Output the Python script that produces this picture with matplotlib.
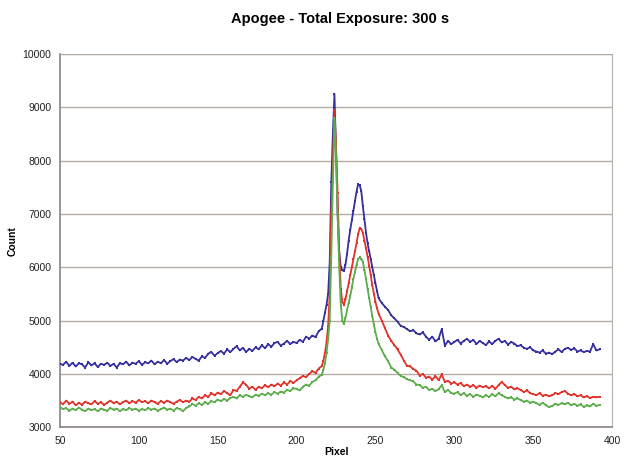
import matplotlib.pyplot as plt

# pixel positions: coarse on the wings, every pixel across the peaks
pixLeft = list(range(50, 216, 2))
pixMid = list(range(216, 252))
pixRight = list(range(252, 394, 2))

blueLeft = [4190, 4170, 4230, 4150, 4210, 4140, 4200, 4180, 4120, 4220,
            4160, 4200, 4130, 4190, 4170, 4210, 4150, 4190, 4120, 4200,
            4180, 4230, 4160, 4210, 4190, 4240, 4170, 4220, 4200, 4250,
            4180, 4230, 4200, 4260, 4190, 4240, 4280, 4220, 4270, 4250,
            4300, 4260, 4320, 4280, 4250, 4330, 4300, 4380, 4410, 4340,
            4390, 4430, 4380, 4460, 4410, 4470, 4520, 4440, 4490, 4410,
            4470, 4430, 4500, 4460, 4540, 4480, 4560, 4510, 4580, 4600,
            4530, 4570, 4620, 4560, 4600, 4580, 4640, 4600, 4700, 4660,
            4720, 4690, 4800]
blueMid = [4850, 5000, 5150, 5300, 5500, 6100, 7600, 8500, 9250, 8200,
           7000, 6300, 6000, 5950, 5930, 6050, 6250, 6500, 6700, 6880,
           7050, 7250, 7420, 7560, 7540, 7430, 7150, 6900, 6650, 6450,
           6300, 6150, 6000, 5850, 5700, 5550]
blueRight = [5420, 5330, 5260, 5200, 5100, 5040, 4980, 4900, 4880, 4840,
             4800, 4820, 4760, 4740, 4780, 4700, 4640, 4700, 4610, 4660,
             4840, 4530, 4620, 4560, 4600, 4640, 4570, 4620, 4660, 4600,
             4640, 4560, 4620, 4580, 4540, 4610, 4560, 4620, 4660, 4590,
             4620, 4550, 4600, 4570, 4520, 4540, 4490, 4470, 4500, 4440,
             4420, 4400, 4440, 4380, 4400, 4370, 4420, 4460, 4410, 4470,
             4490, 4450, 4480, 4420, 4440, 4410, 4430, 4420, 4560, 4440,
             4460]

redLeft = [3470, 3430, 3500, 3440, 3480, 3410, 3460, 3420, 3480, 3450,
           3430, 3490, 3440, 3470, 3420, 3460, 3500, 3450, 3480, 3430,
           3470, 3500, 3450, 3490, 3460, 3510, 3470, 3490, 3450, 3500,
           3470, 3440, 3490, 3460, 3500, 3470, 3440, 3480, 3510, 3470,
           3500, 3480, 3540, 3510, 3570, 3540, 3600, 3570, 3640, 3600,
           3650, 3620, 3680, 3640, 3600, 3700, 3680, 3760, 3840, 3800,
           3720, 3760, 3700, 3760, 3730, 3790, 3750, 3800, 3770, 3820,
           3780, 3840, 3800, 3870, 3830, 3880, 3920, 3960, 3940, 4000,
           4050, 4020, 4100]
redMid = [4150, 4250, 4400, 4600, 4900, 5500, 7000, 7900, 8950, 8300,
          7400, 6300, 5600, 5350, 5300, 5400, 5550, 5700, 5850, 6000,
          6150, 6300, 6450, 6620, 6740, 6720, 6650, 6500, 6360, 6200,
          6030, 5850, 5660, 5500, 5350, 5230]
redRight = [5130, 5000, 4860, 4720, 4620, 4540, 4460, 4360, 4250, 4150,
            4140, 4090, 4060, 3970, 4000, 3930, 3950, 3890, 3960, 3880,
            3990, 3850, 3870, 3820, 3840, 3800, 3830, 3770, 3800, 3760,
            3790, 3740, 3780, 3750, 3770, 3730, 3780, 3720, 3790, 3850,
            3790, 3740, 3760, 3710, 3730, 3700, 3660, 3690, 3640, 3620,
            3600, 3640, 3590, 3610, 3580, 3600, 3640, 3620, 3660, 3680,
            3630, 3600, 3620, 3580, 3600, 3560, 3580, 3550, 3570, 3560,
            3570]

greenLeft = [3380, 3340, 3360, 3310, 3350, 3320, 3370, 3330, 3300, 3350,
             3320, 3340, 3300, 3350, 3330, 3310, 3360, 3330, 3350, 3300,
             3340, 3320, 3360, 3330, 3350, 3310, 3340, 3320, 3360, 3330,
             3350, 3310, 3340, 3370, 3330, 3350, 3310, 3360, 3340, 3300,
             3360, 3390, 3440, 3400, 3450, 3420, 3470, 3440, 3490, 3470,
             3520, 3490, 3530, 3500, 3550, 3570, 3540, 3600, 3570, 3610,
             3580, 3560, 3610, 3590, 3630, 3600, 3640, 3610, 3660, 3630,
             3670, 3650, 3700, 3680, 3730, 3720, 3690, 3760, 3800, 3780,
             3850, 3880, 3950]
greenMid = [3980, 4080, 4200, 4400, 4650, 5000, 6200, 7600, 8800, 8100,
            7000, 6000, 5300, 5000, 4940, 5050, 5200, 5330, 5460, 5620,
            5780, 5920, 6050, 6150, 6190, 6160, 6100, 5950, 5780, 5600,
            5420, 5250, 5080, 4920, 4780, 4660]
greenRight = [4560, 4450, 4330, 4240, 4120, 4080, 4020, 3960, 3940, 3900,
              3880, 3860, 3800, 3790, 3740, 3760, 3700, 3720, 3680, 3710,
              3790, 3660, 3700, 3640, 3630, 3660, 3600, 3640, 3590, 3620,
              3570, 3610, 3590, 3560, 3600, 3570, 3620, 3580, 3640, 3600,
              3570, 3540, 3560, 3520, 3540, 3510, 3480, 3500, 3460, 3480,
              3450, 3420, 3460, 3410, 3380, 3400, 3440, 3420, 3450, 3430,
              3460, 3410, 3440, 3400, 3430, 3380, 3410, 3390, 3440, 3400,
              3420]

xTicks = [50, 100, 150, 200, 250, 300, 350, 400]
yTicks = [3000, 4000, 5000, 6000, 7000, 8000, 9000, 10000]

plt.rcParams['font.family'] = ['Liberation Sans', 'DejaVu Sans']


def axis(ax):
	pixel = pixLeft + pixMid + pixRight
	series = [(blueLeft + blueMid + blueRight, '#35309e'),
	          (redLeft + redMid + redRight, '#e2332b'),
	          (greenLeft + greenMid + greenRight, '#5ead4c')]
	for vals, cor in series:
		ax.plot(pixel, vals, color=cor, linewidth=1.3, marker='s',
		        markersize=1.7, markeredgewidth=0, zorder=3)


def graphic(fig, ax):
	ax.set_xlim(50, 400)
	ax.set_ylim(3000, 10000)
	ax.set_xticks(xTicks)
	ax.set_yticks(yTicks)
	ax.tick_params(labelsize=7.5, length=0, pad=6, colors='#222222')
	ax.grid(axis='y', color='#b4ada8', linewidth=1.0)
	ax.set_axisbelow(True)
	for lado in ['left', 'bottom']:
		ax.spines[lado].set_color('#8a8480')
		ax.spines[lado].set_linewidth(1.2)
	for lado in ['top', 'right']:
		ax.spines[lado].set_color('#b4ada8')
	ax.set_xlabel('Pixel', fontsize=7.5, fontweight='bold', labelpad=1)
	ax.set_ylabel('Count', fontsize=7.5, fontweight='bold', labelpad=4)
	fig.suptitle('Apogee - Total Exposure: 300 s', x=0.545, y=0.975,
	             fontsize=10.5, fontweight='bold')


def main():
	fig = plt.figure(figsize=(6.24, 4.70), dpi=100)
	ax = fig.add_axes([0.096, 0.091, 0.885, 0.794])
	axis(ax)
	graphic(fig, ax)
	fig.savefig('out.png', dpi=100)

if __name__ == "__main__":
	main()
